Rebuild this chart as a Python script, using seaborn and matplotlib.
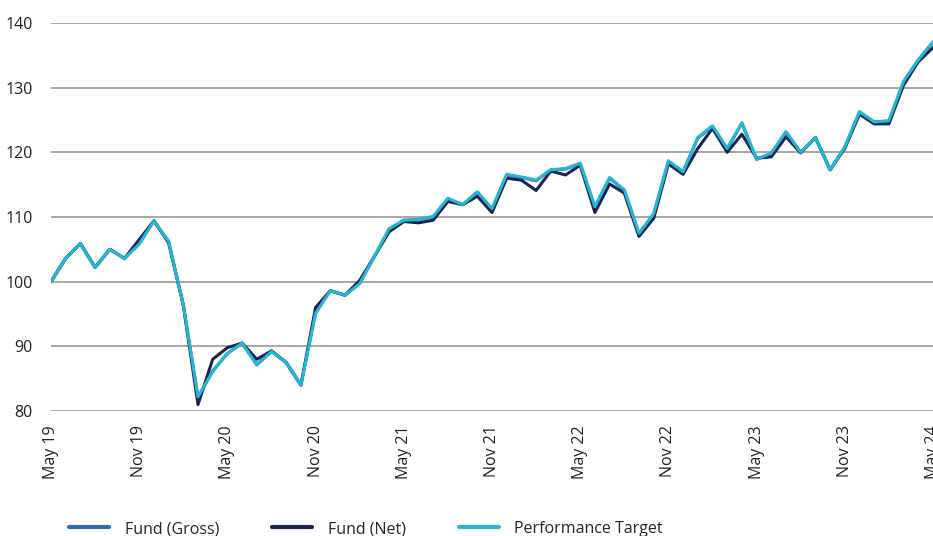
import pandas as pd
import matplotlib.pyplot as plt
import seaborn as sns

# monthly index values, May 19 .. May 24 (61 months)
fund_net = [100, 103.6, 105.9, 102.2, 105.0, 103.6, 106.5, 109.4, 106.0, 96.4,
            81.0, 88.0, 89.8, 90.5, 88.0, 89.3, 87.5, 84.0, 96.0, 98.6,
            97.9, 100.2, 103.9, 107.7, 109.3, 109.1, 109.5, 112.4, 111.9, 113.2,
            110.7, 116.0, 115.7, 114.1, 117.1, 116.5, 118.0, 110.7, 115.1, 113.7,
            107.0, 109.8, 118.2, 116.6, 120.6, 123.7, 120.0, 122.8, 119.1, 119.3,
            122.4, 119.9, 122.3, 117.3, 120.6, 125.9, 124.4, 124.4, 130.4, 134.0, 136.2]
perf_target = [100, 103.6, 105.9, 102.2, 105.0, 103.6, 105.8, 109.4, 106.2, 96.4,
               82.2, 86.1, 88.9, 90.5, 87.1, 89.2, 87.5, 84.0, 95.1, 98.6,
               97.9, 99.7, 103.9, 108.2, 109.5, 109.6, 110.1, 112.9, 111.9, 113.9,
               111.3, 116.6, 116.2, 115.7, 117.3, 117.5, 118.3, 111.6, 116.1, 114.2,
               107.5, 110.5, 118.7, 117.0, 122.3, 124.1, 120.6, 124.6, 118.9, 119.9,
               123.2, 120.0, 122.3, 117.3, 120.8, 126.3, 124.7, 124.9, 131.0, 134.3, 137.1]
fund_gross = [100, 103.6, 105.9, 102.2, 105.0, 103.6, 105.9, 109.4, 106.2, 96.4,
              82.1, 86.2, 88.9, 90.5, 87.2, 89.2, 87.5, 84.0, 95.2, 98.6,
              97.9, 99.8, 103.9, 108.1, 109.5, 109.6, 110.0, 112.8, 111.9, 113.8,
              111.2, 116.5, 116.1, 115.6, 117.3, 117.4, 118.3, 111.5, 116.0, 114.1,
              107.4, 110.4, 118.6, 117.0, 122.2, 124.0, 120.5, 124.5, 118.9, 119.8,
              123.1, 120.0, 122.3, 117.3, 120.8, 126.2, 124.7, 124.8, 130.9, 134.3, 137.0]
tick_labels = ["May 19", "Nov 19", "May 20", "Nov 20", "May 21", "Nov 21",
               "May 22", "Nov 22", "May 23", "Nov 23", "May 24"]
series_names = ["Fund (Gross)", "Fund (Net)", "Performance Target"]
colors = ["#2c6cb8", "#1b2553", "#24b6d2"]

sns.set_theme(style="white")
plt.rcParams["font.family"] = ["Open Sans", "DejaVu Sans"]

months = list(range(len(fund_net)))
df = pd.DataFrame({
    "month": months * 3,
    "value": fund_gross + fund_net + perf_target,
    "series": [series_names[0]] * len(months) + [series_names[1]] * len(months)
              + [series_names[2]] * len(months),
})

fig = plt.figure(figsize=(9.33, 5.36), dpi=100)
ax = fig.add_axes([51 / 933, 125 / 536, 882 / 933, 388 / 536])

sns.lineplot(data=df, x="month", y="value", hue="series",
             hue_order=series_names, palette=colors, linewidth=2.2,
             legend=False, ax=ax)

ax.set_xlim(0, 60)
ax.set_ylim(80, 140)
ax.set_yticks(range(80, 141, 10))
ax.set_xticks(range(0, 61, 6))
ax.set_xticklabels(tick_labels, rotation=90, fontsize=11.5, color="#222222")
ax.tick_params(axis="y", labelsize=11.5, labelcolor="#222222", length=0, pad=13)
ax.tick_params(axis="x", length=0, pad=10)
ax.set_xlabel("")
ax.set_ylabel("")
ax.grid(axis="y", color="#a0a0a0", linewidth=1.3)
ax.set_axisbelow(True)
for s in ax.spines.values():
    s.set_visible(False)

handles = [plt.Line2D([], [], color=c, linewidth=3) for c in colors]
fig.legend(handles, series_names, loc="center left",
           bbox_to_anchor=(69 / 933, 7 / 536), ncol=3, frameon=False,
           fontsize=11.5, handlelength=2.5, handletextpad=1.0,
           columnspacing=3.3, borderaxespad=0, borderpad=0)

fig.savefig("out.png", dpi=100)
